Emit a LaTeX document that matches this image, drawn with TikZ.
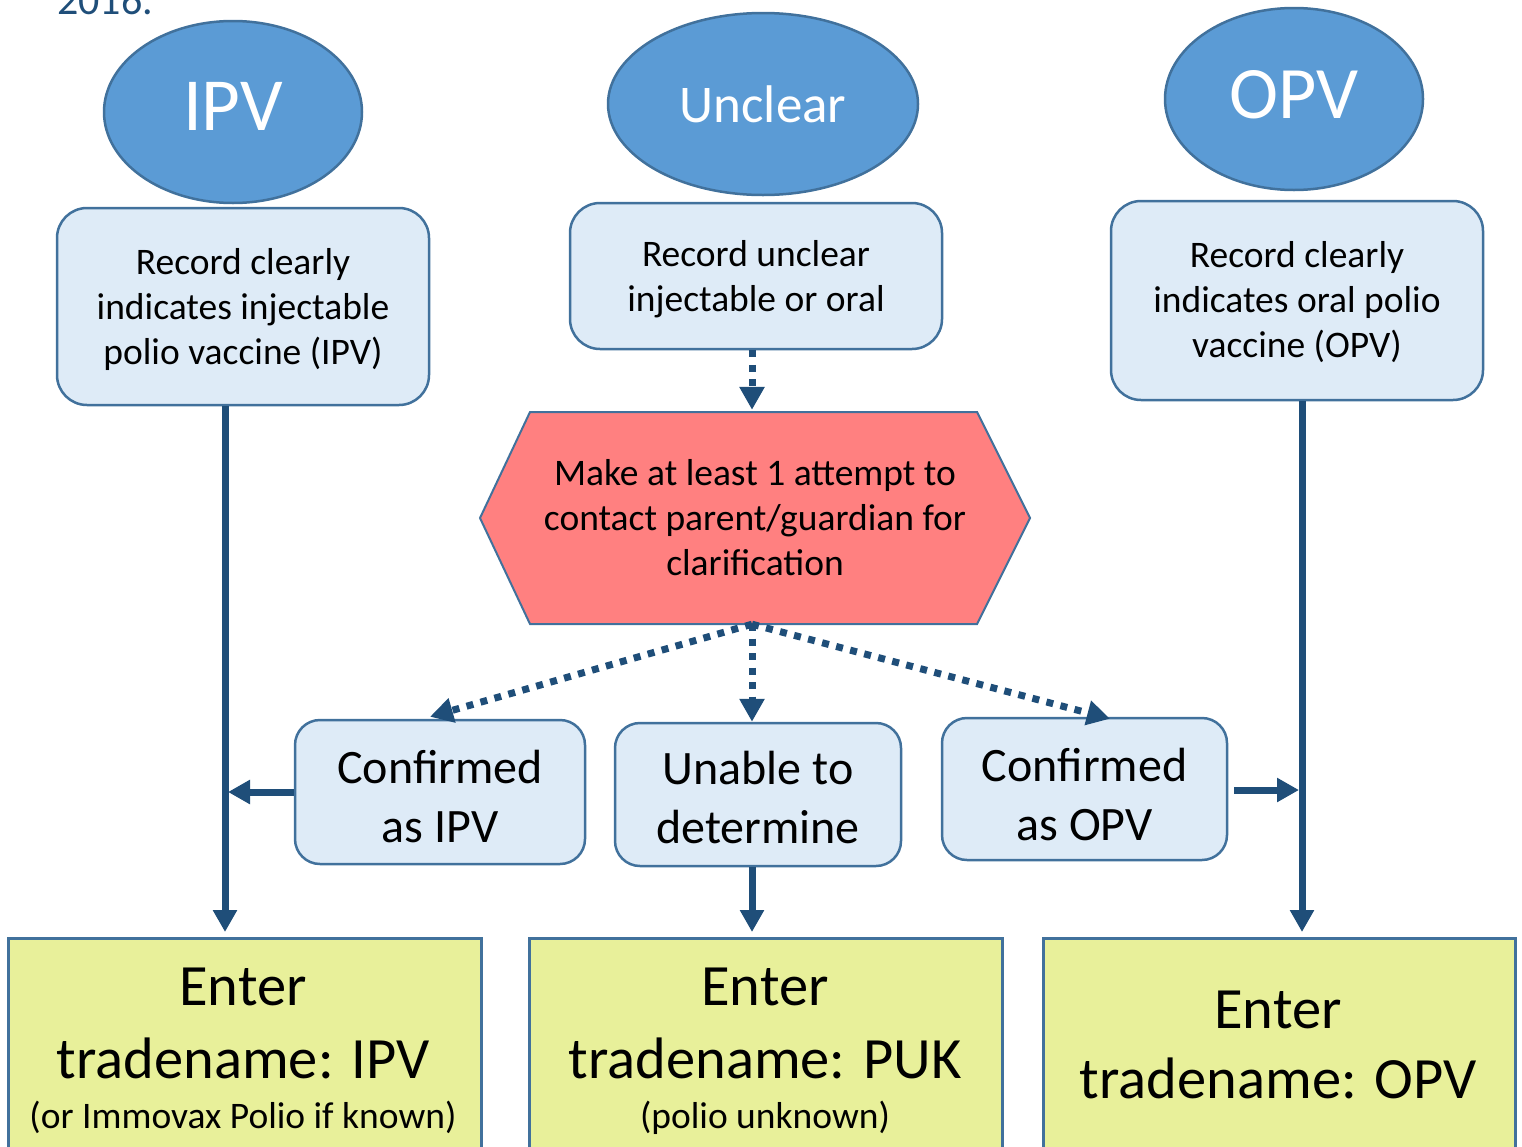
\documentclass[tikz,border=0pt]{standalone}
\usepackage{fontspec}
\setmainfont{Carlito}
\usetikzlibrary{arrows.meta,shapes.geometric,calc}
\definecolor{ellfill}{HTML}{5B9BD5}
\definecolor{bord}{HTML}{41719C}
\definecolor{lightfill}{HTML}{DEEBF7}
\definecolor{hexfill}{HTML}{FF8080}
\definecolor{greenfill}{HTML}{E8F09A}
\definecolor{arrc}{HTML}{1F4E79}
\newcommand\myBody{\fontsize{37.5}{45}\selectfont}
\newcommand\myMid{\fontsize{48}{58.5}\selectfont}
\newcommand\myBig{\fontsize{58.5}{72}\selectfont}
\newcommand\mySmall{\fontsize{37.5}{45}\selectfont}
\begin{document}
\begin{tikzpicture}[x=1pt,y=-1pt,
  ellnode/.style={ellipse, draw=bord, line width=2.5pt, fill=ellfill, text=white, inner sep=0pt},
  lbox/.style={rectangle, rounded corners=30pt, draw=bord, line width=2.5pt, fill=lightfill, align=center, font=\myBody, inner sep=0pt, text depth=10pt},
  cbox/.style={rectangle, rounded corners=25pt, draw=bord, line width=2.5pt, fill=lightfill, align=center, font=\myMid, inner sep=0pt, text depth=10pt, text height=110pt},
  gbox/.style={rectangle, draw=bord, line width=2.5pt, fill=greenfill, inner sep=0pt, anchor=north west, minimum height=240pt},
  solidarr/.style={draw=arrc, line width=7pt, -{Triangle[length=22pt,width=23pt]}},
  dotarr/.style={draw=arrc, line width=7pt, dash pattern=on 7pt off 7.5pt, -{Triangle[length=23pt,width=24pt]}},
  gtext/.style={anchor=base, inner sep=0pt}
]
\useasboundingbox (0,0) rectangle (1522,1146);

% year text (cut at top)
\node[anchor=base west, inner sep=0pt, text=arrc, font=\fontsize{42}{42}\selectfont] (yr) at (57,14) {2016.};

% ellipses
\node[ellnode, minimum width=258pt, minimum height=182pt, font=\fontsize{75}{75}\selectfont, text depth=12pt] (ipv) at (233,112) {IPV};
\node[ellnode, minimum width=310pt, minimum height=182pt, font=\fontsize{53}{53}\selectfont] (unc) at (763,104) {Unclear};
\node[ellnode, minimum width=258pt, minimum height=182pt, font=\fontsize{74}{74}\selectfont, text depth=10pt] (opv) at (1294,99) {OPV};

% record boxes
\node[lbox, minimum width=372pt, minimum height=197pt, text height=125pt] (b1) at (243,306.5) {Record clearly\\indicates injectable\\polio vaccine (IPV)};
\node[lbox, minimum width=372pt, minimum height=146pt, text height=81.5pt] (b2) at (756,276) {Record unclear\\injectable or oral};
\node[lbox, minimum width=372pt, minimum height=199pt, text height=124.5pt] (b3) at (1297,300.5) {Record clearly\\indicates oral polio\\vaccine (OPV)};

% hexagon
\draw[draw=bord, line width=2pt, fill=hexfill] (480,518) -- (530,412) -- (977,412) -- (1030,518) -- (977,624) -- (530,624) -- cycle;
\node[inner sep=0pt, minimum width=550pt, minimum height=212pt, align=center, font=\myBody, text height=124pt, text depth=10pt] (hex) at (755,518) {Make at least 1 attempt to\\contact parent/guardian for\\clarification};

% confirmation boxes
\node[cbox, minimum width=290pt, minimum height=144pt] (cipv) at (440,792) {Confirmed\\as IPV};
\node[cbox, minimum width=286pt, minimum height=143pt, text height=107pt] (cun) at (758,794.5) {Unable to\\determine};
\node[cbox, minimum width=285pt, minimum height=142pt, text height=112pt] (copv) at (1084.5,789) {Confirmed\\as OPV};

% green boxes
\node[gbox, minimum width=473pt] (ea) at (7,937) {};
\node[gbox, minimum width=473pt] (eb) at (528,937) {};
\node[gbox, minimum width=472pt] (ec) at (1042,937) {};
\node[gtext, font=\myBig] (ea1) at (243,1005) {Enter};
\node[gtext, font=\myBig] (ea2) at (243,1078) {tradename: IPV};
\node[gtext, font=\mySmall] (ea3) at (243,1128) {(or Immovax Polio if known)};
\node[gtext, font=\myBig] (eb1) at (765,1005) {Enter};
\node[gtext, font=\myBig] (eb2) at (765,1078) {tradename: PUK};
\node[gtext, font=\mySmall] (eb3) at (765,1128) {(polio unknown)};
\node[gtext, font=\myBig] (ec1) at (1278,1028) {Enter};
\node[gtext, font=\myBig] (ec2) at (1278,1098) {tradename: OPV};

% helper coordinates
\coordinate (lx) at (225,0);
\coordinate (rx) at (1302,0);
\coordinate (cx) at (752,0);

% solid connectors
\draw[solidarr, shorten >=5pt] (b1.south -| lx) -- (ea.north -| lx);
\draw[solidarr, shorten >=5pt] (b3.south -| rx) -- (ec.north -| rx);
\draw[solidarr, shorten >=3pt] (cipv.west) -- (cipv.west -| lx);
\draw[solidarr, shorten <=6pt, shorten >=3pt] (copv.east |- 0,790) -- (rx |- 0,790);
\draw[solidarr, shorten >=5pt] (cun.south -| cx) -- (eb.north -| cx);

% dotted connectors
\draw[dotarr, shorten >=2pt] (b2.south -| cx) -- (hex.north -| cx);
\draw[dotarr] (hex.south -| cx) -- ($(cipv.north)+(-10,-2)$);
\draw[dotarr] (hex.south -| cx) -- (cun.north -| cx);
\draw[dotarr] (hex.south -| cx) -- ($(copv.north)+(25.5,2)$);
\end{tikzpicture}
\end{document}
